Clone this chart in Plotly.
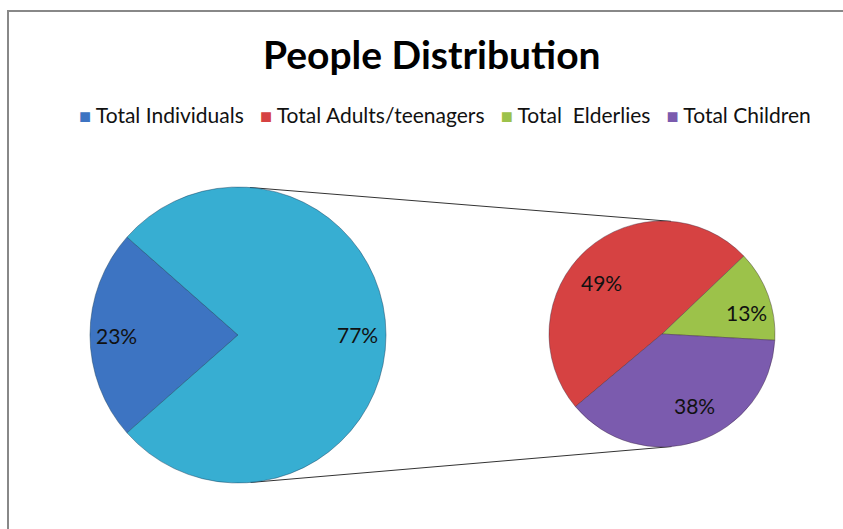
import math
import plotly.graph_objects as go

# ---- data ----
main_labels = ["Total Individuals", "Other"]
main_values = [23, 77]
main_colors = ["#3D74C2", "#37AED2"]

sub_labels = ["Total Adults/teenagers", "Total  Elderlies", "Total Children"]
sub_values = [49, 13, 38]
sub_colors = ["#D64242", "#9CC24A", "#7B5BAE"]

legend_labels = ["Total Individuals", "Total Adults/teenagers", "Total  Elderlies", "Total Children"]
legend_colors = ["#3D74C2", "#D64242", "#9CC24A", "#7B5BAE"]

title_text = "People Distribution"

# label placement inside each slice: (angle shift from slice middle in degrees, radius fraction)
main_label_pos = [(0, 0.82), (0, 0.81)]
sub_label_pos = [(8, 0.70), (-6, 0.77), (6, 0.69)]

# ---- layout geometry (pixels) ----
W, H = 843, 529
main_c, main_r, main_start = (238, 335), 148, 221.4   # start angle: math degrees, slices run clockwise
sub_c, sub_r, sub_start = (662, 334), 113, 220.0
FONT = "Lato"


def domain(c, r):
    cx, cy = c
    return dict(x=[(cx - r) / W, (cx + r) / W], y=[(H - cy - r) / H, (H - cy + r) / H])


def slice_labels(values, c, r, start, placements):
    """Percent labels placed inside clockwise slices beginning at `start`."""
    total = float(sum(values))
    out = []
    acc = start
    for v, (shift, frac) in zip(values, placements):
        span = 360.0 * v / total
        mid = acc - span / 2 + shift
        acc -= span
        a = math.radians(mid)
        x = c[0] + frac * r * math.cos(a)
        y = c[1] - frac * r * math.sin(a)
        out.append(dict(text=f"{round(100 * v / total)}%", x=x / W, y=1 - y / H,
                        xref="paper", yref="paper", xanchor="center", yanchor="middle",
                        showarrow=False, font=dict(family=FONT, size=21, color="#111111")))
    return out


fig = go.Figure()

fig.add_trace(go.Pie(
    labels=main_labels, values=main_values, sort=False, direction="clockwise",
    rotation=90 - main_start + 360, domain=domain(main_c, main_r),
    marker=dict(colors=main_colors, line=dict(color="rgba(20,60,90,0.45)", width=1)),
    textinfo="none", showlegend=False, hoverinfo="label+percent",
))

fig.add_trace(go.Pie(
    labels=sub_labels, values=sub_values, sort=False, direction="clockwise",
    rotation=90 - sub_start + 360, domain=domain(sub_c, sub_r),
    marker=dict(colors=sub_colors, line=dict(color="rgba(60,40,60,0.4)", width=1)),
    textinfo="none", showlegend=False, hoverinfo="label+percent",
))

# connector lines: outer common tangents of the two pies
x1, y1 = main_c[0], H - main_c[1]
x2, y2 = sub_c[0], H - sub_c[1]
d = math.hypot(x2 - x1, y2 - y1)
phi = math.atan2(y2 - y1, x2 - x1)
beta = math.acos((main_r - sub_r) / d)
shapes = []
for th in (phi + beta, phi - beta):
    px1, py1 = x1 + main_r * math.cos(th), y1 + main_r * math.sin(th)
    px2, py2 = x2 + sub_r * math.cos(th), y2 + sub_r * math.sin(th)
    shapes.append(dict(type="line", xref="paper", yref="paper",
                       x0=px1 / W, y0=py1 / H, x1=px2 / W, y1=py2 / H,
                       line=dict(color="#333333", width=1), layer="below"))

# chart area border (top and left edges visible)
shapes.append(dict(type="rect", xref="paper", yref="paper",
                   x0=8 / W, y0=-0.3, x1=1.3, y1=1 - 11 / H,
                   line=dict(color="#888888", width=2), layer="below"))

# legend row
nb = "\u00a0"
parts = []
for lab, col in zip(legend_labels, legend_colors):
    parts.append(f'<span style="color:{col};font-size:20px">\u25A0</span>{nb}{lab.replace(" ", nb)}')
legend_text = (nb * 3).join(parts)

annotations = [
    dict(text=legend_text, x=445 / W, y=1 - 114 / H, xref="paper", yref="paper",
         xanchor="center", yanchor="middle", showarrow=False,
         font=dict(family=FONT, size=21, color="#111111")),
    dict(text=f"<b>{title_text}</b>", x=432 / W, y=1 - 54 / H, xref="paper", yref="paper",
         xanchor="center", yanchor="middle", showarrow=False,
         font=dict(family=FONT, size=39, color="#000000")),
]
annotations += slice_labels(main_values, main_c, main_r, main_start, main_label_pos)
annotations += slice_labels(sub_values, sub_c, sub_r, sub_start, sub_label_pos)

fig.update_layout(
    width=W, height=H, margin=dict(l=0, r=0, t=0, b=0),
    paper_bgcolor="white", plot_bgcolor="white",
    shapes=shapes, annotations=annotations,
)

fig.write_html("out.html")
